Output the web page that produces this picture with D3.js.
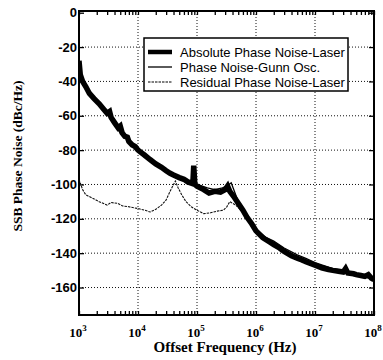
<!DOCTYPE html>
<html>
<head>
<meta charset="utf-8">
<script src="https://cdn.jsdelivr.net/npm/d3@7"></script>
<style>
  body { margin: 0; background: #fff; }
  svg { display: block; }
</style>
</head>
<body>
<svg id="chart" width="383" height="360"></svg>
<script>
// offset frequency (Hz) / SSB phase noise (dBc/Hz)
const absFreq = [1e3, 1.05e3, 1.15e3, 1.3e3, 1.5e3, 1.8e3, 2.2e3, 2.6e3, 3e3, 3.3e3, 3.5e3, 4e3, 4.6e3, 5e3, 5.4e3, 6e3, 6.6e3, 7e3, 8e3, 9e3,
  1e4, 1.3e4, 1.6e4, 2e4, 2.5e4, 3e4, 3.5e4, 4e4, 5e4, 6e4, 7e4, 8.5e4, 8.8e4, 9.2e4,
  1e5, 1.3e5, 1.6e5, 2e5, 2.5e5, 3e5, 3.3e5, 3.6e5, 4.2e5, 5e5, 6e5, 7e5, 8.5e5,
  1e6, 1.3e6, 1.7e6, 2e6, 2.5e6, 3e6, 4e6, 5e6, 6e6, 7e6,
  1e7, 1.3e7, 1.7e7, 2e7, 2.5e7, 3e7, 3.3e7, 3.6e7, 4.5e7, 5e7, 6e7, 7e7, 8e7, 9e7, 1e8];
const absNoise = [-28, -36, -40, -43, -47, -50, -53, -56, -58.5, -57.5, -61, -64, -67, -66, -70, -72, -72.5, -75, -77, -78,
  -80, -83, -85.5, -88, -90, -92, -93.5, -94.5, -96, -97, -98.5, -99.5, -89, -100,
  -101, -103, -105, -104, -104.5, -103, -101, -104, -107, -111, -115, -119, -123,
  -127, -131, -133.5, -135, -137, -139, -141.5, -143, -144, -145,
  -147, -148.5, -149.5, -150, -150.5, -151, -149, -151.5, -152, -152.5, -153, -153.5, -152.5, -154.5, -155.5];

const gunnFreq = [1e3, 1.2e3, 1.5e3, 2e3, 3e3, 5e3, 1e4, 2e4, 4e4, 7e4,
  1e5, 1.5e5, 2e5, 2.7e5, 3.2e5, 3.8e5, 4.3e5, 5e5, 6e5, 8e5,
  1e6, 1.5e6, 2e6, 3e6, 5e6, 7e6, 1e7, 1.5e7, 2e7, 3e7, 5e7, 7e7, 1e8];
const gunnNoise = [-30, -41, -46, -51, -59, -70, -79, -87, -94, -98,
  -100, -102, -103, -102, -101, -99, -104, -110, -115, -121,
  -126, -131, -133, -137, -141, -143, -145.5, -147.5, -149, -150, -152, -152.5, -155];

const resFreq = [1e3, 1.15e3, 1.3e3, 1.7e3, 2.2e3, 3e3, 3.5e3, 4.5e3, 5.5e3, 7e3,
  1e4, 1.3e4, 1.6e4, 2e4, 2.5e4, 3e4, 3.5e4, 4e4, 4.3e4, 4.8e4, 5.5e4, 6.5e4, 8e4,
  1e5, 1.3e5, 1.7e5, 2.2e5, 2.8e5, 3.2e5, 3.6e5, 4.5e5, 6e5, 8e5,
  1e6, 1.5e6, 2e6, 3e6, 5e6, 1e7, 2e7, 5e7, 1e8];
const resNoise = [-97, -103, -106, -108, -110, -112, -110.5, -111, -112.5, -113,
  -114, -115, -116, -114.5, -112, -109, -104, -100, -98, -102, -106, -110, -113,
  -115, -117, -116.5, -115.5, -115, -113, -110, -112, -116, -122,
  -127, -132, -134.5, -139, -142.5, -147, -150, -152.5, -155.5];

const yTicks = [0, -20, -40, -60, -80, -100, -120, -140, -160];
const xDecades = [1e3, 1e4, 1e5, 1e6, 1e7, 1e8];
const legendLabels = ["Absolute Phase Noise-Laser", "Phase Noise-Gunn Osc.", "Residual Phase Noise-Laser"];

const svg = d3.select("#chart");
const pL = 79, pR = 374, pT = 11, pB = 315;

const x = d3.scaleLog().domain([1e3, 1e8]).range([pL, pR]);
const y = d3.scaleLinear().domain([-176, 1]).range([pB, pT]);

// dotted grid
svg.append("g").selectAll("line").data(xDecades.slice(1, -1)).join("line")
  .attr("x1", d => x(d)).attr("x2", d => x(d))
  .attr("y1", pT).attr("y2", pB)
  .attr("stroke", "#111").attr("stroke-width", 1).attr("stroke-dasharray", "1,2");
svg.append("g").selectAll("line").data(yTicks.slice(1)).join("line")
  .attr("x1", pL).attr("x2", pR)
  .attr("y1", d => y(d)).attr("y2", d => y(d))
  .attr("stroke", "#111").attr("stroke-width", 1).attr("stroke-dasharray", "1,2");

// inward ticks on all four sides
const minor = x.ticks();
svg.append("g").attr("transform", `translate(0,${pB})`)
  .call(d3.axisBottom(x).tickValues(minor).tickSize(-4).tickFormat(""))
  .call(g => g.select(".domain").remove());
svg.append("g").attr("transform", `translate(0,${pT})`)
  .call(d3.axisTop(x).tickValues(minor).tickSize(-4).tickFormat(""))
  .call(g => g.select(".domain").remove());
svg.append("g").attr("transform", `translate(${pL},0)`)
  .call(d3.axisLeft(y).tickValues(yTicks).tickSize(-5).tickFormat(""))
  .call(g => g.select(".domain").remove());
svg.append("g").attr("transform", `translate(${pR},0)`)
  .call(d3.axisRight(y).tickValues(yTicks).tickSize(-5).tickFormat(""))
  .call(g => g.select(".domain").remove());
svg.selectAll(".tick line").attr("stroke", "#000").attr("stroke-width", 1.3);

// curves
const line = d3.line().x(d => x(d[0])).y(d => y(d[1]));
svg.append("clipPath").attr("id", "plot").append("rect")
  .attr("x", pL).attr("y", pT).attr("width", pR - pL).attr("height", pB - pT);
const curves = svg.append("g").attr("clip-path", "url(#plot)");

curves.append("path").datum(d3.zip(resFreq, resNoise)).attr("d", line)
  .attr("fill", "none").attr("stroke", "#111").attr("stroke-width", 1.1).attr("stroke-dasharray", "2.5,1");
curves.append("path").datum(d3.zip(absFreq, absNoise)).attr("d", line)
  .attr("fill", "none").attr("stroke", "#000").attr("stroke-width", 5.5).attr("stroke-linejoin", "miter");
curves.append("path").datum(d3.zip(gunnFreq, gunnNoise)).attr("d", line)
  .attr("fill", "none").attr("stroke", "#000").attr("stroke-width", 1.3);

// frame
svg.append("rect").attr("x", pL).attr("y", pT).attr("width", pR - pL).attr("height", pB - pT)
  .attr("fill", "none").attr("stroke", "#000").attr("stroke-width", 2);

// y tick labels
svg.append("g").selectAll("text").data(yTicks).join("text")
  .attr("x", pL - 2).attr("y", d => y(d) + 4.5)
  .attr("text-anchor", "end")
  .style("font", "bold 13px 'Liberation Sans', Arial, sans-serif")
  .text(d => d);

// x tick labels 10^n
const xl = svg.append("g").selectAll("text").data(xDecades).join("text")
  .attr("x", d => x(d) - 1).attr("y", 337)
  .attr("text-anchor", "middle")
  .style("font", "bold 13px 'Liberation Serif', 'Times New Roman', serif");
xl.append("tspan").text("10");
xl.append("tspan").attr("dy", -6).style("font-size", "9px").text(d => Math.round(Math.log10(d)));

// axis titles
svg.append("text").attr("x", 225).attr("y", 352).attr("text-anchor", "middle")
  .style("font", "bold 15px 'Liberation Serif', 'Times New Roman', serif")
  .text("Offset Frequency (Hz)");
svg.append("text").attr("transform", "translate(22,156) rotate(-90)").attr("text-anchor", "middle")
  .style("font", "bold 13.5px 'Liberation Serif', 'Times New Roman', serif")
  .text("SSB Phase Noise (dBc/Hz)");

// legend
const lg = svg.append("g").attr("transform", "translate(144,38)");
lg.append("rect").attr("width", 204).attr("height", 53)
  .attr("fill", "#fff").attr("stroke", "#000").attr("stroke-width", 1.5);
const rows = lg.selectAll("g").data(legendLabels).join("g")
  .attr("transform", (d, i) => `translate(0,${14 + i * 15})`);
rows.append("line").attr("x1", 4).attr("x2", 28)
  .attr("stroke", "#000")
  .attr("stroke-width", (d, i) => [4.5, 1.3, 1.1][i])
  .attr("stroke-dasharray", (d, i) => i === 2 ? "2.5,1" : null);
rows.append("text").attr("x", 36).attr("y", 4.5)
  .style("font", "13px 'Liberation Sans', Arial, sans-serif")
  .text(d => d);
</script>
</body>
</html>
